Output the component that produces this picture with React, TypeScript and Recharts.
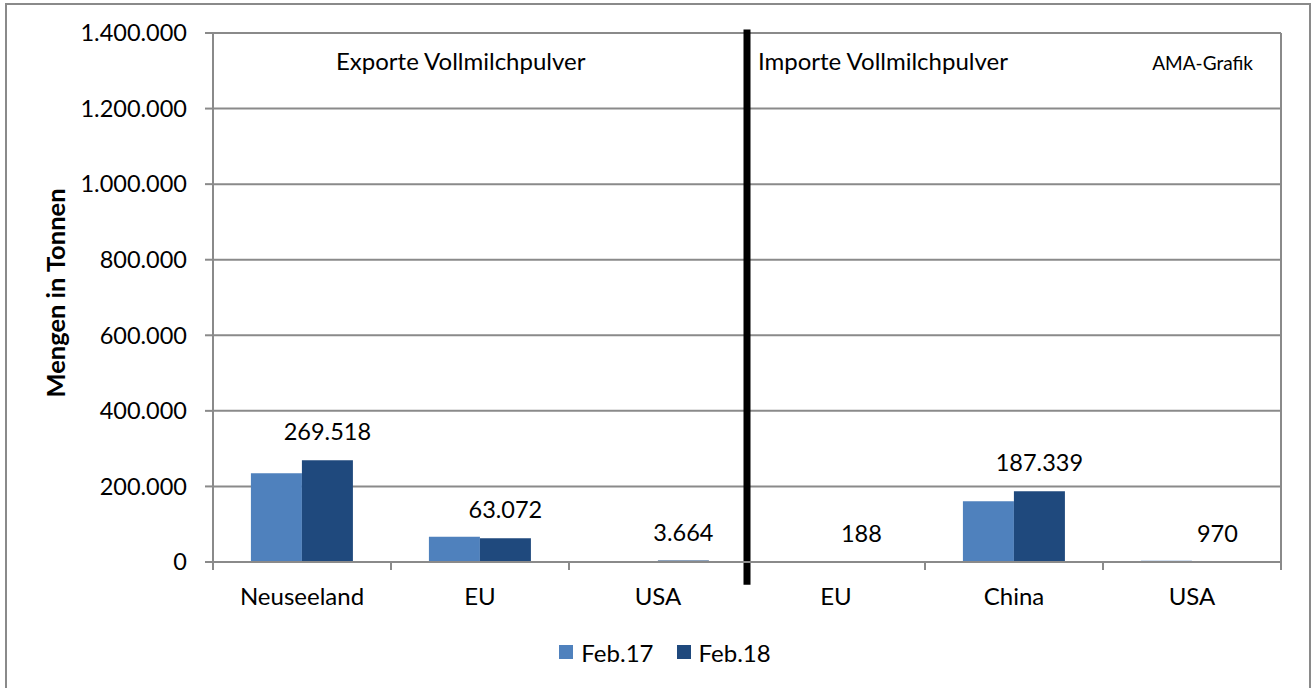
import React from 'react';
import { BarChart, Bar, XAxis, YAxis, CartesianGrid, ReferenceLine, LabelList, Legend } from 'recharts';

const categories = ['Neuseeland', 'EU', 'USA', 'EU', 'China', 'USA'];
const feb17 = [234600, 66500, 1000, 200, 161000, 3000];
const feb18 = [269518, 63072, 3664, 188, 187339, 970];
const seriesNames = ['Feb.17', 'Feb.18'];
const seriesColors = ['#4f81bd', '#1f497d'];
const yTicks = [0, 200000, 400000, 600000, 800000, 1000000, 1200000, 1400000];
const panelTitles = ['Exporte Vollmilchpulver', 'Importe Vollmilchpulver'];
const sourceNote = 'AMA-Grafik';
const yTitle = 'Mengen in Tonnen';
const boundaries = [0, 1, 2, 3, 4, 5, 6];
const separatorAt = 3;

const data = categories.map((c, i) => ({ key: String(i), idx: i, label: c, feb17: feb17[i], feb18: feb18[i] }));

const fmt = (v: any) => String(Math.round(Number(v))).replace(/\B(?=(\d{3})+(?!\d))/g, '.');

const FONT = 'Lato, "Open Sans", sans-serif';
const GRID = '#8a8a8a';

const LegendContent = (props: any) => {
  const payload = props.payload || [];
  return (
    <div style={{ display: 'flex', justifyContent: 'center', alignItems: 'center', height: 24, fontFamily: FONT, fontSize: 24, color: '#000' }}>
      {payload.map((p: any, i: number) => (
        <div key={i} style={{ display: 'flex', alignItems: 'center', marginLeft: i === 0 ? 0 : 23 }}>
          <div style={{ width: 14, height: 14, background: p.color, marginRight: 8 }} />
          <span>{p.value}</span>
        </div>
      ))}
    </div>
  );
};

export default function App() {
  return (
    <div style={{ position: 'absolute', left: 0, top: 0, width: 1312, height: 688, background: '#fff', overflow: 'hidden' }}>
      <BarChart
        width={1312}
        height={688}
        data={data}
        margin={{ top: 33, right: 31, bottom: 96, left: 0 }}
        barCategoryGap="21.3%"
        barGap={0}
      >
        <CartesianGrid vertical={false} stroke={GRID} strokeWidth={2} />
        <XAxis
          dataKey="key"
          height={30}
          interval={0}
          tickFormatter={(v: any) => categories[Number(v)]}
          axisLine={{ stroke: GRID, strokeWidth: 2 }}
          tickLine={false}
          tickSize={8}
          tickMargin={18}
          tick={{ fill: '#000', fontSize: 24, fontFamily: FONT }}
        />
        <XAxis xAxisId="n" dataKey="idx" type="number" domain={[0, 6]} allowDataOverflow hide />
        <YAxis
          width={213}
          domain={[0, 1400000]}
          ticks={yTicks}
          interval={0}
          tickFormatter={fmt}
          axisLine={{ stroke: GRID, strokeWidth: 2 }}
          tickLine={{ stroke: GRID, strokeWidth: 2 }}
          tickSize={8}
          tickMargin={18}
          tick={{ fill: '#000', fontSize: 23.5, fontFamily: FONT }}
        />
        <Legend
          layout="horizontal"
          verticalAlign="middle"
          align="center"
          content={<LegendContent />}
          wrapperStyle={{ left: 9, top: 640, width: 1312, height: 24 }}
        />
        <Bar dataKey="feb17" name={seriesNames[0]} fill={seriesColors[0]} isAnimationActive={false} />
        <Bar dataKey="feb18" name={seriesNames[1]} fill={seriesColors[1]} isAnimationActive={false}>
          <LabelList dataKey="feb18" position="top" offset={20} formatter={fmt} fill="#000" style={{ fontSize: 23.5, fontFamily: FONT, fill: '#000' }} />
        </Bar>
        {boundaries.map((b) => (
          <ReferenceLine
            key={'b' + b}
            xAxisId="n"
            segment={[{ x: b, y: 0 }, { x: b, y: -21000 }]}
            stroke={GRID}
            strokeWidth={2}
            ifOverflow="visible"
          />
        ))}
        <ReferenceLine xAxisId="n" x={6} stroke={GRID} strokeWidth={2} ifOverflow="visible" />
        <ReferenceLine
          xAxisId="n"
          segment={[{ x: separatorAt, y: -60000 }, { x: separatorAt, y: 1409000 }]}
          stroke="#000"
          strokeWidth={7}
          ifOverflow="visible"
        />
        <text x={336} y={70} fontSize={24} fontFamily={FONT} fill="#000">{panelTitles[0]}</text>
        <text x={758} y={70} fontSize={24} fontFamily={FONT} fill="#000">{panelTitles[1]}</text>
        <text x={1253} y={70} fontSize={19} fontFamily={FONT} fill="#000" textAnchor="end">{sourceNote}</text>
        <text x={65} y={293} fontSize={25.5} fontWeight="bold" fontFamily={FONT} fill="#000" textAnchor="middle" transform="rotate(-90, 65, 293)">{yTitle}</text>
      </BarChart>
      <div style={{ position: 'absolute', left: 5, top: 3, width: 1306, height: 700, border: '2px solid #8a8a8a', boxSizing: 'border-box', pointerEvents: 'none' }} />
    </div>
  );
}
